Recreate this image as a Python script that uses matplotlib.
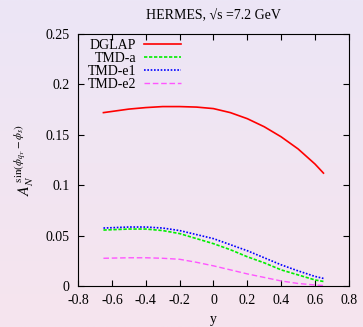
import matplotlib.pyplot as plt
import numpy as np

# data
y_vals = [-0.65, -0.5, -0.4, -0.3, -0.2, -0.1, 0.0, 0.1, 0.2, 0.3, 0.4, 0.5, 0.6, 0.65]
dglap = [0.172, 0.1755, 0.177, 0.178, 0.178, 0.1775, 0.176, 0.172, 0.166, 0.158, 0.148, 0.136, 0.121, 0.112]
tmd_a = [0.0555, 0.0565, 0.0565, 0.055, 0.052, 0.047, 0.042, 0.036, 0.029, 0.023, 0.016, 0.011, 0.006, 0.0045]
tmd_e1 = [0.0575, 0.0585, 0.0585, 0.0575, 0.055, 0.051, 0.047, 0.041, 0.035, 0.028, 0.021, 0.015, 0.0095, 0.0075]
tmd_e2 = [0.0275, 0.028, 0.028, 0.0275, 0.0265, 0.0235, 0.020, 0.016, 0.012, 0.0085, 0.005, 0.0025, 0.001, 0.0005]
xticks = [-0.8, -0.6, -0.4, -0.2, 0, 0.2, 0.4, 0.6, 0.8]
yticks = [0, 0.05, 0.1, 0.15, 0.2, 0.25]

plt.rcParams['font.family'] = ['Liberation Serif', 'DejaVu Serif']
plt.rcParams['mathtext.fontset'] = 'stix'

fig = plt.figure(figsize=(3.63, 3.27), dpi=100)

# background gradient, lavender at top to pink at bottom
bg = fig.add_axes([0, 0, 1, 1], zorder=-10)
top = np.array([236, 230, 246]) / 255
bot = np.array([246, 228, 238]) / 255
t = np.linspace(0, 1, 256)[:, None]
grad = top[None, :] * (1 - t) + bot[None, :] * t
bg.imshow(grad[:, None, :], aspect='auto', extent=[0, 1, 0, 1])
bg.axis('off')

ax = fig.add_axes([0.215, 0.1254, 0.746, 0.7706])
ax.patch.set_alpha(0)

ax.plot(y_vals, dglap, color='#ff0000', lw=1.2, label='DGLAP')
ax.plot(y_vals, tmd_a, color='#00ee00', lw=1.2, ls=(0, (2, 1)), label='TMD-a')
ax.plot(y_vals, tmd_e1, color='#0000ff', lw=1.2, ls=(0, (1, 1)), label='TMD-e1')
ax.plot(y_vals, tmd_e2, color='#ff55ff', lw=1.0, ls=(0, (4, 2)), label='TMD-e2')

ax.set_xlim(-0.8, 0.8)
ax.set_ylim(0, 0.25)
ax.set_xticks(xticks)
ax.set_xticklabels(['-0.8', '-0.6', '-0.4', '-0.2', '0', '0.2', '0.4', '0.6', '0.8'])
ax.set_yticks(yticks)
ax.set_yticklabels(['0', '0.05', '0.1', '0.15', '0.2', '0.25'])
ax.tick_params(direction='in', top=True, right=True, length=4, labelsize=10, pad=6)

ax.set_xlabel('y', fontsize=10, labelpad=4)
ax.set_ylabel(r'$A_N^{\,\sin(\phi_{q_T}-\phi_s)}$', fontsize=11.5, labelpad=6)
ax.set_title('HERMES, \u221as =7.2 GeV', fontsize=10, pad=11)

ax.legend(loc='upper left', markerfirst=False, frameon=False, fontsize=10,
          handlelength=2.6, handletextpad=0.6, labelspacing=0.0,
          borderaxespad=0.0, borderpad=0.2, bbox_to_anchor=(0.025, 0.99))

fig.savefig('out.png', dpi=100)
